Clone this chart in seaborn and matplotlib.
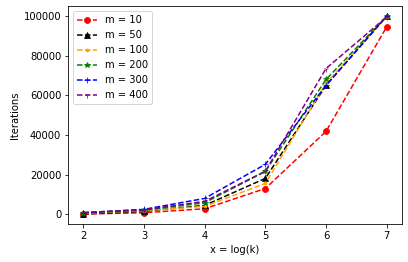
import matplotlib
matplotlib.use("Agg")
import matplotlib.pyplot as plt
import seaborn as sns
import pandas as pd

# log(k) on the x axis
x_vals = [2, 3, 4, 5, 6, 7]

# iterations per m
m_labels = ["m = 10", "m = 50", "m = 100", "m = 200", "m = 300", "m = 400"]
iters_m10 = [100, 800, 2800, 13000, 41800, 94500]
iters_m50 = [200, 1500, 4500, 18100, 65000, 99800]
iters_m100 = [500, 1800, 4000, 15600, 66000, 99600]
iters_m200 = [700, 2000, 5800, 21600, 68000, 99800]
iters_m300 = [800, 2500, 8000, 25200, 65000, 100000]
iters_m400 = [900, 2300, 6500, 21700, 73500, 99500]

series = [iters_m10, iters_m50, iters_m100, iters_m200, iters_m300, iters_m400]
colors = ["red", "black", "orange", "green", "blue", "purple"]
markers = ["o", "^", ".", "*", "+", "1"]

rows = []
for label, ys in zip(m_labels, series):
    for x, y in zip(x_vals, ys):
        rows.append({"x": x, "Iterations": y, "m": label})
df = pd.DataFrame(rows)

fig, ax = plt.subplots(figsize=(408 / 72, 262 / 72), dpi=72)
fig.subplots_adjust(left=0.167, right=0.985, top=0.977, bottom=0.145)

for label, color, marker in zip(m_labels, colors, markers):
    sub = df[df["m"] == label]
    sns.lineplot(data=sub, x="x", y="Iterations", ax=ax, color=color,
                 marker=marker, linestyle="--", label=label,
                 markeredgecolor=color, markersize=6)

ax.set_xlabel("x = log(k)")
ax.set_ylabel("Iterations")
ax.legend(loc="upper left")

fig.savefig("out.png", dpi=72)
